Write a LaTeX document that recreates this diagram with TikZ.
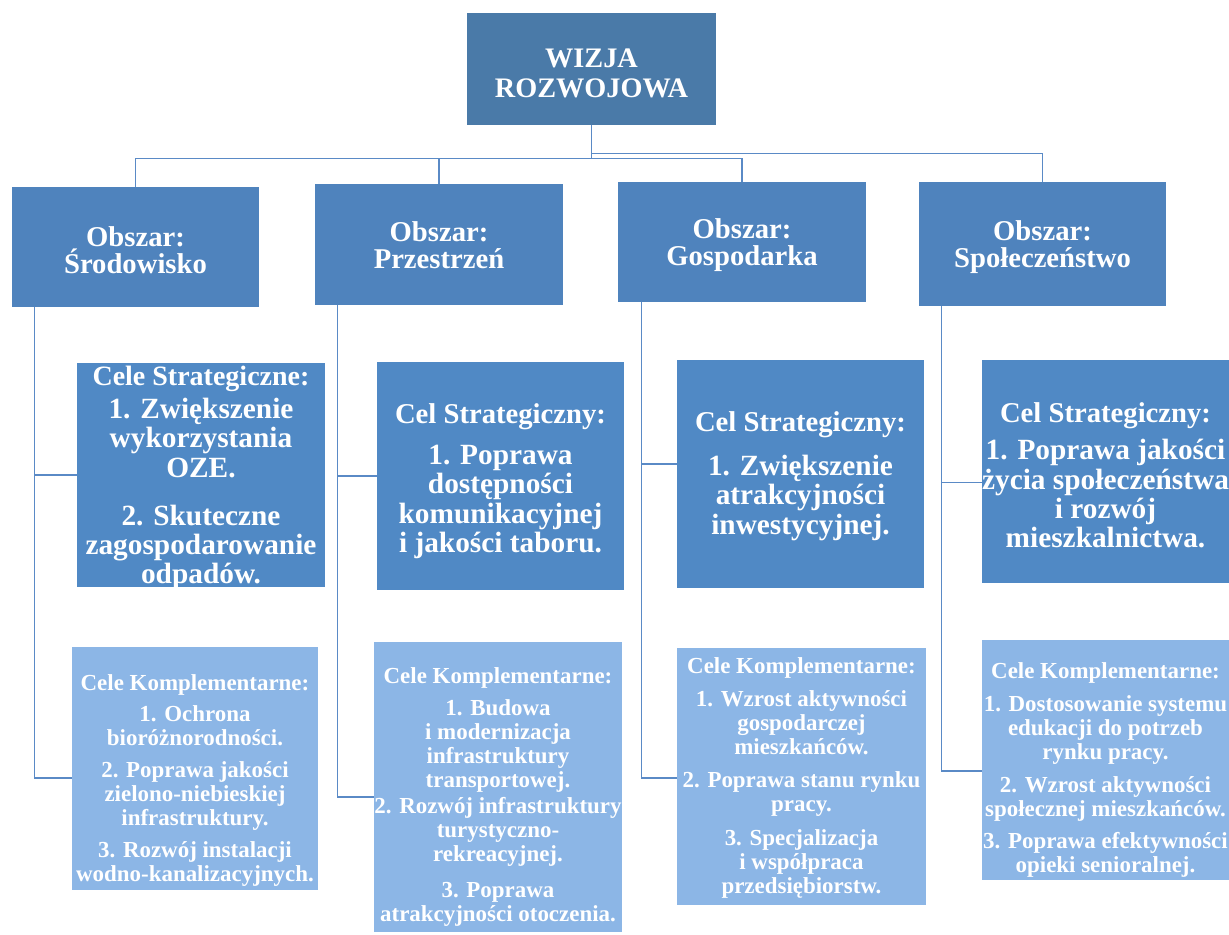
\documentclass[tikz,border=0pt]{standalone}
\usepackage{fontspec}
\setmainfont{Liberation Serif}
\usetikzlibrary{calc}
\definecolor{cW}{HTML}{4A7AA8}
\definecolor{cO}{HTML}{4F83BD}
\definecolor{cS}{HTML}{5089C5}
\definecolor{cK}{HTML}{8CB6E6}
\definecolor{cL}{HTML}{5A8AC6}
\tikzset{
  box/.style={inner sep=0pt},
  txt/.style={inner sep=0pt, align=center, text=white},
  sz/.style 2 args={minimum width={#1*0.75pt}, minimum height={#2*0.75pt}},
  wiz/.style={box, fill=cW},
  area/.style={box, fill=cO},
  strat/.style={box, fill=cS},
  comp/.style={box, fill=cK},
  wizt/.style={txt, font=\fontsize{21.2}{22.5}\selectfont\bfseries},
  areat/.style={txt, font=\fontsize{21.5}{20.5}\selectfont\bfseries},
  stratt/.style={txt, font=\fontsize{22}{22}\selectfont\bfseries},
  compt/.style={txt, font=\fontsize{17.2}{18}\selectfont\bfseries},
  conn/.style={draw=cL, line width=1.1pt},
}
\begin{document}
\begin{tikzpicture}[x=0.75pt,y=-0.75pt]
\useasboundingbox (0,0) rectangle (1229,935);

% top
\node[wiz, sz={249}{112}] (W) at (591.5,69) {};
\node[wizt] (Wt) at ($(W.center)+(0,4)$) {WIZJA\\ROZWOJOWA};

% areas
\node[area, sz={247}{120}] (O1) at (135.5,247) {};
\node[area, sz={248}{121}] (O2) at (439,244.5) {};
\node[area, sz={248}{120}] (O3) at (742,242) {};
\node[area, sz={247}{124}] (O4) at (1042.5,244) {};
\node[areat] (O1t) at ($(O1.center)+(0,3)$) {Obszar:\\Środowisko};
\node[areat] (O2t) at ($(O2.center)+(0,1)$) {Obszar:\\Przestrzeń};
\node[areat] (O3t) at ($(O3.center)+(0,3)$) {Obszar:\\Gospodarka};
\node[areat] (O4t) at ($(O4.center)+(0,3)$) {Obszar:\\Społeczeństwo};

% strategic
\node[strat, sz={248}{224}] (S1) at (201,475) {};
\node[strat, sz={247}{228}] (S2) at (500.5,476) {};
\node[strat, sz={247}{228}] (S3) at (800.5,474) {};
\node[strat, sz={247}{223}] (S4) at (1105.5,471.5) {};
\node[stratt] (S1t) at ($(S1.center)+(0,3)$) {\fontsize{22}{21}\selectfont
  {\fontsize{21}{21}\selectfont Cele Strategiczne:}\\[3pt]
  1. Zwiększenie\\ wykorzystania\\ OZE.\\[14pt]
  2. Skuteczne\\ zagospodarowanie\\ odpadów.};
\node[stratt] (S2t) at ($(S2.center)+(0,5)$) {
  {\fontsize{21.5}{22}\selectfont Cel Strategiczny:}\\[9pt]
  1. Poprawa\\ dostępności\\ komunikacyjnej\\ i jakości taboru.};
\node[stratt] (S3t) at ($(S3.center)+(0,2)$) {
  {\fontsize{21.5}{22}\selectfont Cel Strategiczny:}\\[11pt]
  1. Zwiększenie\\ atrakcyjności\\ inwestycyjnej.};
\node[stratt] (S4t) at ($(S4.center)+(0,4)$) {\fontsize{21.3}{22}\selectfont
  {\fontsize{21.5}{22}\selectfont Cel Strategiczny:}\\[6pt]
  1. Poprawa jakości\\ życia społeczeństwa\\ i rozwój\\ mieszkalnictwa.};

% complementary
\node[comp, sz={246}{243}] (K1) at (195,768.5) {};
\node[comp, sz={248}{290}] (K2) at (498,787) {};
\node[comp, sz={249}{257}] (K3) at (801.5,776.5) {};
\node[comp, sz={247}{240}] (K4) at (1105.5,760) {};
\node[compt] (K1t) at ($(K1.center)+(0,12)$) {
  Cele Komplementarne:\\[5pt]
  1. Ochrona\\ bioróżnorodności.\\[6pt]
  2. Poprawa jakości\\ zielono-niebieskiej\\ infrastruktury.\\[6pt]
  3. Rozwój instalacji\\ wodno-kanalizacyjnych.};
\node[compt] (K2t) at ($(K2.center)+(0,10)$) {
  Cele Komplementarne:\\[6pt]
  1. Budowa\\ i modernizacja\\ infrastruktury\\ transportowej.\\[2pt]
  2. Rozwój infrastruktury\\ turystyczno-\\ rekreacyjnej.\\[9pt]
  3. Poprawa\\ atrakcyjności otoczenia.};
\node[compt] (K3t) at ($(K3.center)+(0,1)$) {
  Cele Komplementarne:\\[7pt]
  1. Wzrost aktywności\\ gospodarczej\\ mieszkańców.\\[7pt]
  2. Poprawa stanu rynku\\ pracy.\\[7pt]
  3. Specjalizacja\\ i współpraca\\ przedsiębiorstw.};
\node[compt] (K4t) at ($(K4.center)+(0,10)$) {
  Cele Komplementarne:\\[7pt]
  1. Dostosowanie systemu\\ edukacji do potrzeb\\ rynku pracy.\\[7pt]
  2. Wzrost aktywności\\ społecznej mieszkańców.\\[6pt]
  3. Poprawa efektywności\\ opieki senioralnej.};

% top connectors
\draw[conn] (W.south) -- ++(0,33) coordinate (j1) -| (O1.north);
\draw[conn] (j1) -| (O2.north);
\draw[conn] (j1) -| (O3.north);
\draw[conn] ($(W.south)+(0,28)$) -| (O4.north);

% column trunks
\coordinate (t1) at ($(O1.south west)+(23,0)$);
\coordinate (t2) at ($(O2.south west)+(23,0)$);
\coordinate (t3) at ($(O3.south west)+(24,0)$);
\coordinate (t4) at ($(O4.south west)+(23,0)$);
\draw[conn] (t1) |- (S1.west);
\draw[conn] (t1) |- ($(K1.west)+(0,9.5)$);
\draw[conn] (t2) |- (S2.west);
\draw[conn] (t2) |- ($(K2.west)+(0,10)$);
\draw[conn] (t3) |- ($(S3.west)+(0,-10)$);
\draw[conn] (t3) |- ($(K3.west)+(0,1.5)$);
\draw[conn] (t4) |- ($(S4.west)+(0,11)$);
\draw[conn] (t4) |- ($(K4.west)+(0,11)$);
\end{tikzpicture}
\end{document}
